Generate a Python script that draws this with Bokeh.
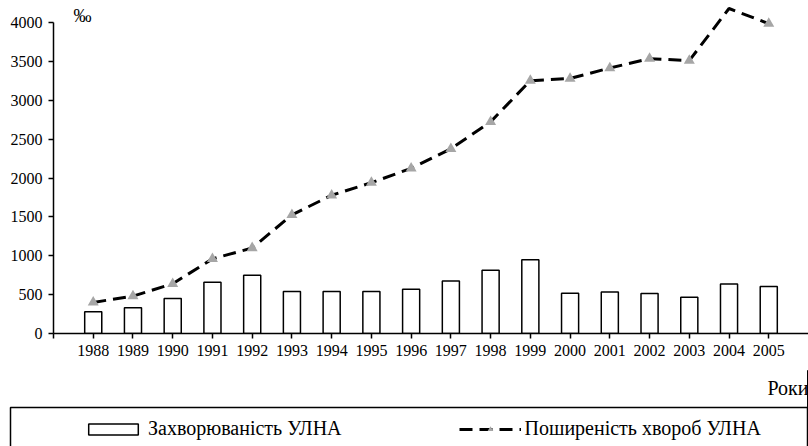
from bokeh.plotting import figure
from bokeh.layouts import column
from bokeh.models import (ColumnDataSource, FixedTicker, Legend, LegendItem, Label,
                          BoxAnnotation, CDSView, BooleanFilter, Range1d)
from bokeh.embed import file_html
from bokeh.resources import INLINE

years = list(range(1988, 2006))
incidence = [280, 330, 450, 660, 750, 540, 540, 540, 570, 675, 812, 950,
             518, 533, 513, 466, 636, 603]
prevalence = [400, 480, 640, 960, 1100, 1526, 1778, 1940, 2124, 2376, 2722, 3252,
              3280, 3415, 3535, 3510, 4180, 3985]
y_ticks = [0, 500, 1000, 1500, 2000, 2500, 3000, 3500, 4000]
x_ticks = [1987] + years
label_bars = "Захворюваність УЛНА"
label_line = "Поширеність хвороб УЛНА"
unit_label = "‰"
x_title = "Роки"

FONT = "Liberation Serif"
BAR_STYLE = dict(fill_color="white", line_color="black", line_width=1.5)
LINE_STYLE = dict(line_color="black", line_width=3, line_dash="13 7")
PT_STYLE = dict(marker="triangle", size=11, fill_color="#a6a6a6", line_color=None)

src = ColumnDataSource(dict(year=years, inc=incidence, prev=prevalence))

p = figure(width=808, height=370, output_backend="svg", toolbar_location=None,
           x_range=Range1d(1987, 2006), y_range=Range1d(0, 4283),
           min_border_left=53, min_border_right=0, min_border_top=0,
           min_border_bottom=37)
p.frame_align = False
p.outline_line_color = None
p.xgrid.visible = False
p.ygrid.visible = False

p.vbar(x="year", top="inc", width=0.43, source=src, **BAR_STYLE)
p.line(x="year", y="prev", source=src, **LINE_STYLE)
view = CDSView(filter=BooleanFilter([v <= 4000 for v in prevalence]))
p.scatter(x="year", y="prev", source=src, view=view, **PT_STYLE)

for ax in (p.xaxis[0], p.yaxis[0]):
    ax.axis_line_color = "black"
    ax.axis_line_width = 1.5
    ax.major_tick_line_color = "black"
    ax.major_tick_line_width = 1.5
    ax.major_tick_out = 5
    ax.major_tick_in = 0
    ax.minor_tick_line_color = None
    ax.major_label_text_font = FONT
    ax.major_label_text_font_size = "16px"
    ax.major_label_text_color = "black"

p.yaxis[0].ticker = FixedTicker(ticks=y_ticks)
p.yaxis[0].bounds = (0, 4000)
p.yaxis[0].major_label_standoff = 6
p.xaxis[0].ticker = FixedTicker(ticks=x_ticks)
p.xaxis[0].major_label_overrides = {1987: ""}
p.xaxis[0].major_label_standoff = 6

p.add_layout(Label(x=20, y=318, x_units="screen", y_units="screen", text=unit_label,
                   text_font=FONT, text_font_size="18px", text_color="black",
                   text_baseline="middle"))

# strip below the chart: axis title and legend
# (its glyphs sit outside its ranges, so only the legend shows)
p2 = figure(width=808, height=76, output_backend="svg", toolbar_location=None,
            x_range=Range1d(0, 1), y_range=Range1d(0, 1),
            x_axis_type=None, y_axis_type=None,
            min_border_left=0, min_border_right=0, min_border_top=0,
            min_border_bottom=0)
p2.frame_align = False
p2.outline_line_color = None
p2.xgrid.visible = False
p2.ygrid.visible = False
lb = p2.vbar(x="year", top="inc", width=0.43, source=src, **BAR_STYLE)
ll = p2.line(x="year", y="prev", source=src, **LINE_STYLE)
lp = p2.scatter(x="year", y="prev", source=src, **PT_STYLE)

p2.add_layout(Label(x=808, y=59, x_units="screen", y_units="screen", text=x_title,
                    text_font=FONT, text_font_size="20px", text_color="black",
                    text_align="right", text_baseline="middle"))

p2.add_layout(BoxAnnotation(left=10, right=807, top=37, bottom=120,
                            left_units="canvas", right_units="canvas",
                            top_units="canvas", bottom_units="canvas",
                            fill_color=None, line_color="black", line_alpha=1.0,
                            line_width=1.5))

legend = Legend(items=[LegendItem(label=label_bars, renderers=[lb]),
                       LegendItem(label=label_line, renderers=[ll, lp])],
                orientation="horizontal", location=(82, 6),
                border_line_color=None, background_fill_alpha=0,
                padding=0, margin=0, spacing=117, label_standoff=4,
                glyph_width=62, glyph_height=14,
                label_text_font=FONT, label_text_font_size="20px",
                label_text_color="black")
p2.add_layout(legend)

layout = column(p, p2, spacing=0)
open("out.html", "w").write(file_html(layout, INLINE))
